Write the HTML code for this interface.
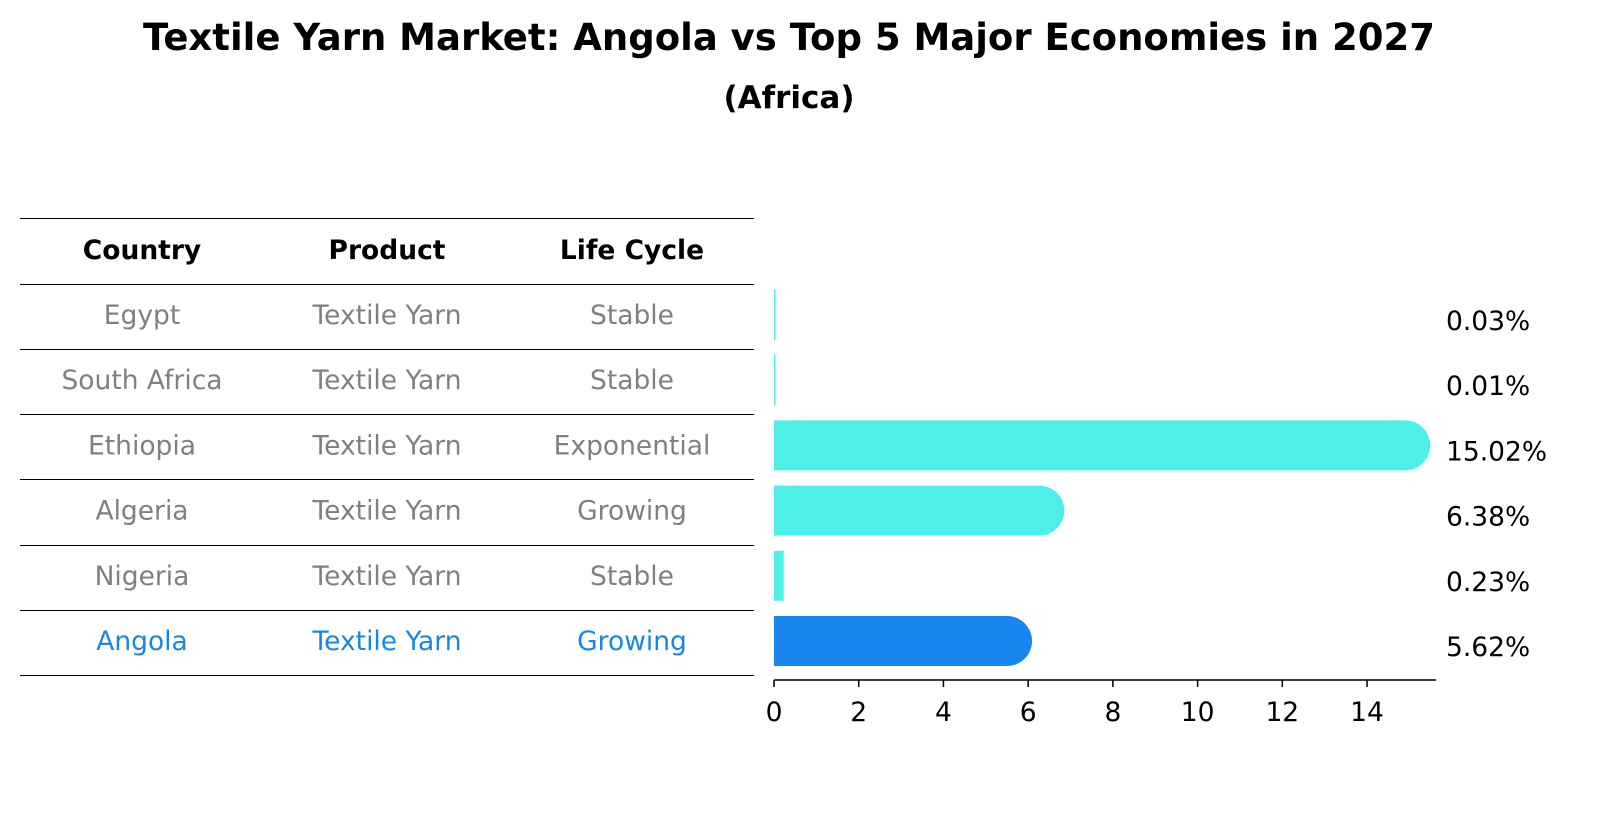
<!DOCTYPE html>
<html><head><meta charset="utf-8">
<style>
body{margin:0;background:#fff;font-family:"Liberation Sans","DejaVu Sans",sans-serif;}
svg text{font-family:"DejaVu Sans","Liberation Sans",sans-serif;}
</style></head>
<body>
<svg id="chart" width="1604" height="823" xmlns="http://www.w3.org/2000/svg">
<rect width="1604" height="823" fill="#fff"/>
<text x="789" y="50" text-anchor="middle" font-size="37" font-weight="bold">Textile Yarn Market: Angola vs Top 5 Major Economies in 2027</text>
<text x="789" y="108" text-anchor="middle" font-size="31" font-weight="bold">(Africa)</text>
<g id="table"></g>
<g id="bars"></g>
</svg>
<script>
const countries=["Egypt","South Africa","Ethiopia","Algeria","Nigeria","Angola"];
const products=["Textile Yarn","Textile Yarn","Textile Yarn","Textile Yarn","Textile Yarn","Textile Yarn"];
const lifeCycles=["Stable","Stable","Exponential","Growing","Stable","Growing"];
const values=[0.03,0.01,15.02,6.38,0.23,5.62];
const valueLabels=["0.03%","0.01%","15.02%","6.38%","0.23%","5.62%"];
const ticks=[0,2,4,6,8,10,12,14];
const highlight="Angola";

const NS="http://www.w3.org/2000/svg";
function mk(tag,attrs,parent,txt){const e=document.createElementNS(NS,tag);for(const k in attrs)e.setAttribute(k,attrs[k]);if(txt!==undefined)e.textContent=txt;parent.appendChild(e);return e;}
const x0=774,scale=42.36;
const xs=v=>x0+v*scale;
const rowY=i=>315+i*65.2;
const tbl=document.getElementById('table');
const bars=document.getElementById('bars');
const colX=[142,387,632];
const FS='26.5';
const heads=["Country","Product","Life Cycle"];
heads.forEach((h,j)=>{
 const t=mk('text',{x:colX[j],y:259,'text-anchor':'middle','font-size':FS,'font-weight':'bold'},tbl,h);
 
 
});
const lineYs=[218,284,349,414,479,545,610,675];
lineYs.forEach((y,i)=>{
 const l=mk('line',{x1:20,x2:754,y1:y+0.5,y2:y+0.5,stroke:'#000','stroke-width':1},tbl);
 
 
});
countries.forEach((c,i)=>{
 const y=rowY(i);
 const col=c===highlight?'#1a86e0':'#808080';
 [c,products[i],lifeCycles[i]].forEach((s,j)=>{
  const t=mk('text',{x:colX[j],y:y+9,'text-anchor':'middle','font-size':FS,fill:col},tbl,s);
  
  
 });
 const w=xs(values[i])-x0;
 const r=w>25?25:0;
 const fill=c===highlight?'#1a86f0':'#4eeee9';
 const b=mk('rect',{x:x0,y:y-25,width:Math.max(w+r*0.8,1.5),height:50,rx:r,fill:fill},bars);
 
 
 if(r){const sq=mk('rect',{x:x0,y:y-25,width:r,height:50,fill:fill},bars);
  
  }
 const lt=mk('text',{x:1446,y:y+15,'font-size':FS},bars,valueLabels[i]);
 
 
});
const ax=mk('line',{x1:x0,x2:1436,y1:680,y2:680,stroke:'#000','stroke-width':1.5},bars);


ticks.forEach(t=>{
 const tk=mk('line',{x1:xs(t),x2:xs(t),y1:680,y2:687,stroke:'#000','stroke-width':1.5},bars);
 
 
 const tl=mk('text',{x:xs(t),y:721,'text-anchor':'middle','font-size':FS},bars,String(t));
 
 
});
</script>
</body></html>
